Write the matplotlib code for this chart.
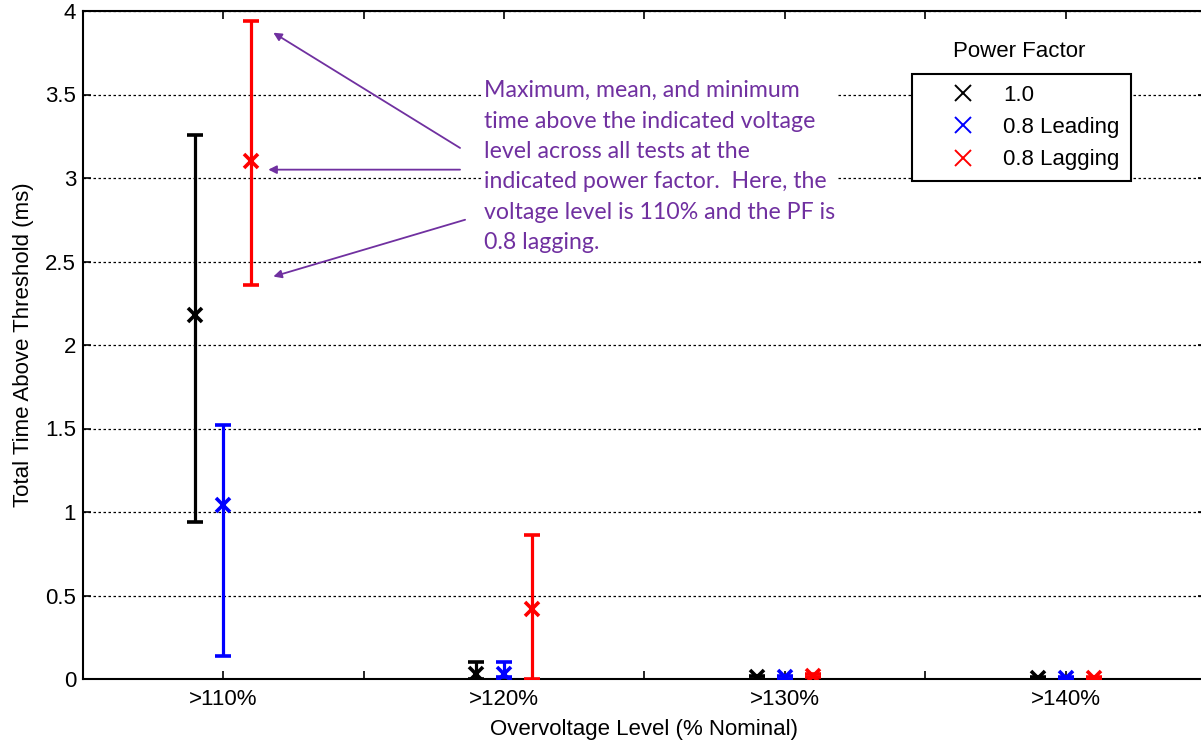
import numpy as np
import matplotlib.pyplot as plt
from matplotlib.lines import Line2D

plt.rcParams['font.family'] = ['Liberation Sans', 'DejaVu Sans']

# overvoltage levels and power factors
levels = ['>110%', '>120%', '>130%', '>140%']
pf_names = ['1.0', '0.8 Leading', '0.8 Lagging']
pf_colors = ['black', 'blue', 'red']
offsets = [-0.1, 0.0, 0.1]

# time above threshold (ms): max, mean, min per level
pf10_max = [3.26, 0.10, 0.02, 0.01]
pf10_mean = [2.18, 0.03, 0.01, 0.005]
pf10_min = [0.94, 0.0, 0.0, 0.0]

lead_max = [1.52, 0.10, 0.02, 0.01]
lead_mean = [1.04, 0.03, 0.01, 0.005]
lead_min = [0.14, 0.01, 0.0, 0.0]

lag_max = [3.94, 0.86, 0.03, 0.01]
lag_mean = [3.10, 0.42, 0.02, 0.005]
lag_min = [2.36, 0.0, 0.01, 0.0]

series = [(pf10_max, pf10_mean, pf10_min),
          (lead_max, lead_mean, lead_min),
          (lag_max, lag_mean, lag_min)]

fig = plt.figure(figsize=(12.01, 7.42), dpi=100)
ax = fig.add_axes([83 / 1201, 63 / 742, 1123 / 1201, 668 / 742])

x = np.arange(1, len(levels) + 1)
for (mx, mn, lo), col, off in zip(series, pf_colors, offsets):
    mx, mn, lo = np.array(mx), np.array(mn), np.array(lo)
    ax.errorbar(x + off, mn, yerr=[mn - lo, mx - mn], fmt='x', color=col,
                ecolor=col, elinewidth=2.3, capsize=5.5, capthick=2.3,
                markersize=10, markeredgewidth=2.6, zorder=3)

ax.set_xlim(0.5, 4.5)
ax.set_ylim(0, 4)
ax.set_xticks(np.arange(1, 4.51, 0.5))
ax.set_xticklabels(['>110%', '', '>120%', '', '>130%', '', '>140%', ''])
ax.set_yticks(np.arange(0, 4.01, 0.5))
ax.set_yticklabels(['0', '0.5', '1', '1.5', '2', '2.5', '3', '3.5', '4'])
ax.tick_params(direction='in', top=True, right=True, length=6, width=1.2,
               labelsize=16, pad=5)
ax.tick_params(axis='x', pad=7)
ax.yaxis.grid(True, linestyle=(0, (2, 2)), color='black', linewidth=0.9)
for s in ax.spines.values():
    s.set_linewidth(1.5)

ax.set_xlabel('Overvoltage Level (% Nominal)', fontsize=16, labelpad=7)
ax.set_ylabel('Total Time Above Threshold (ms)', fontsize=16, labelpad=8)

# legend
handles = [Line2D([], [], linestyle='none', marker='x', color=c,
                  markersize=12, markeredgewidth=1.4) for c in pf_colors]
leg = ax.legend(handles, pf_names, loc='upper left',
                bbox_to_anchor=((912 - 83) / 1123, (679 - 74) / 668),
                fontsize=16, frameon=True, fancybox=False, edgecolor='black',
                handletextpad=0.0, labelspacing=0.5, borderpad=0.5,
                handlelength=3.6, borderaxespad=0)
leg.get_frame().set_linewidth(1.5)
leg.get_frame().set_alpha(1)
ax.text(3.835, 3.76, 'Power Factor', fontsize=16, ha='center', va='center')

# annotation
purple = '#7030A0'
note = ('Maximum, mean, and minimum\n'
        'time above the indicated voltage\n'
        'level across all tests at the\n'
        'indicated power factor.  Here, the\n'
        'voltage level is 110% and the PF is\n'
        '0.8 lagging.')
ax.text(1.93, 3.585, note, fontsize=16.7, family='Lato', color=purple,
        ha='left', va='top', linespacing=1.55,
        bbox=dict(facecolor='white', edgecolor='none', pad=2), zorder=4)
arrow = dict(arrowstyle='-|>', color=purple, lw=1.3, mutation_scale=12,
             shrinkA=0, shrinkB=0)
ax.annotate('', xy=(1.178, 3.87), xytext=(1.843, 3.18), arrowprops=arrow)
ax.annotate('', xy=(1.16, 3.05), xytext=(1.843, 3.05), arrowprops=arrow)
ax.annotate('', xy=(1.178, 2.41), xytext=(1.861, 2.75), arrowprops=arrow)

fig.savefig('out.png', dpi=100)
